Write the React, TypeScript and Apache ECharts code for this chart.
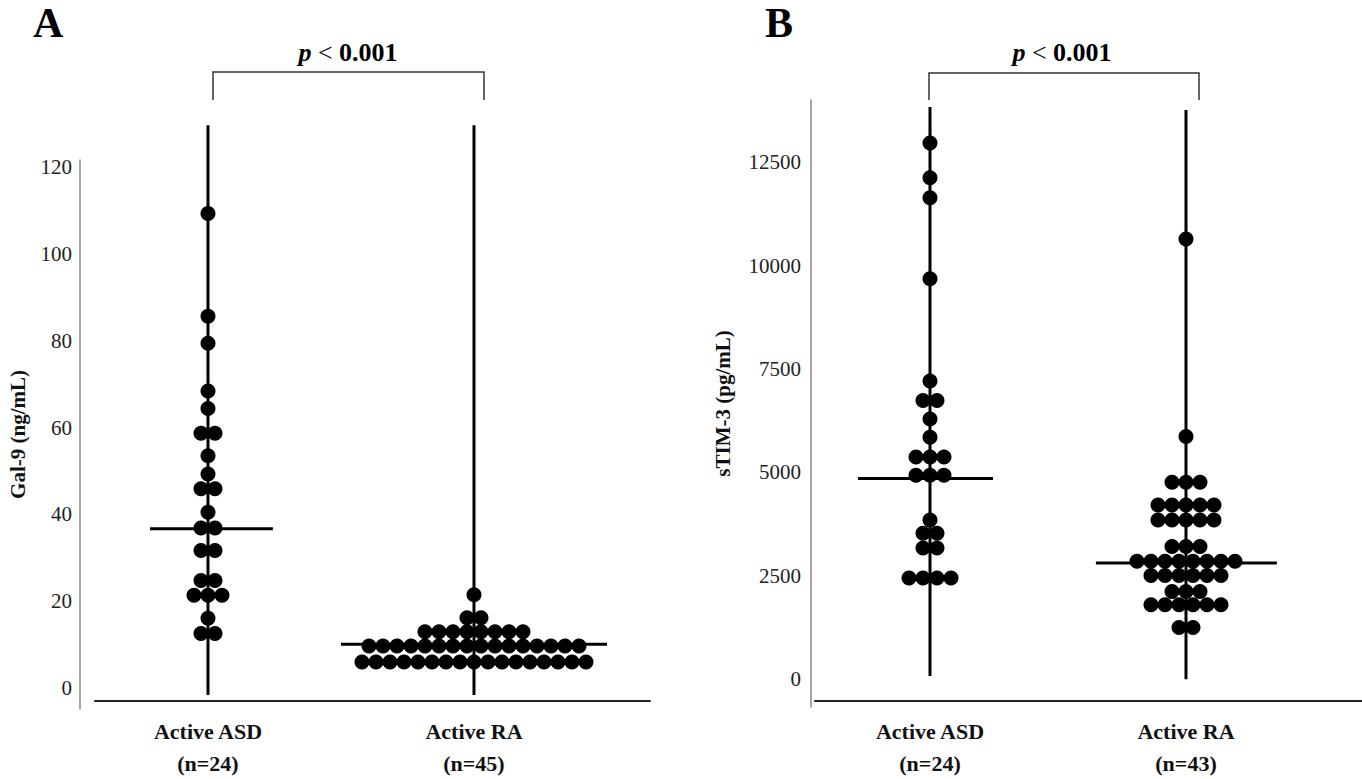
import React, { useEffect, useRef } from "react";
import * as echarts from "echarts";

const groups = ["Active ASD", "Active RA"];
const nLabelsA = ["(n=24)", "(n=45)"];
const nLabelsB = ["(n=24)", "(n=43)"];

const gal9Ticks = [0, 20, 40, 60, 80, 100, 120];
const stimTicks = [0, 2500, 5000, 7500, 10000, 12500];

const gal9ASD = [109.3, 85.6, 79.4, 68.4, 64.4, 58.7, 58.7, 53.5, 49.3, 45.9, 45.9, 40.5, 36.9, 36.9, 31.7, 31.7, 24.8, 24.8, 21.4, 21.4, 21.4, 16.1, 12.6, 12.6];
const gal9RA = [
  21.5,
  16.2, 16.2,
  13, 13, 13, 13, 13, 13, 13, 13,
  9.7, 9.7, 9.7, 9.7, 9.7, 9.7, 9.7, 9.7, 9.7, 9.7, 9.7, 9.7, 9.7, 9.7, 9.7, 9.7,
  6, 6, 6, 6, 6, 6, 6, 6, 6, 6, 6, 6, 6, 6, 6, 6, 6,
];
const gal9Median = [36.7, 10.1];
const gal9Range = [[-1.6, 129.6], [-1.6, 129.6]];

const stimASD = [12960, 12120, 11640, 9680, 7210, 6740, 6740, 6290, 5850, 5370, 5370, 5370, 4930, 4930, 4930, 3850, 3530, 3530, 3170, 3170, 2450, 2450, 2450, 2450];
const stimRA = [
  10640,
  5870,
  4760, 4760, 4760,
  4210, 4210, 4210, 4210, 4210,
  3850, 3850, 3850, 3850, 3850,
  3210, 3210, 3210,
  2850, 2850, 2850, 2850, 2850, 2850, 2850, 2850,
  2510, 2510, 2510, 2510, 2510, 2510,
  2120, 2120, 2120,
  1800, 1800, 1800, 1800, 1800, 1800,
  1250, 1250,
];
const stimMedian = [4850, 2812];
const stimRange = [[80, 13830], [0, 13760]];

// median bar half-widths (in category units: left, right)
const medianHalfA = [[0.218, 0.244], [0.5, 0.5]];
const medianHalfB = [[0.281, 0.246], [0.352, 0.355]];

const FONT = "'Liberation Serif', 'Times New Roman', serif";
const SPACING = 14;

function swarm(values: number[], cat: number) {
  const counts = new Map<number, number>();
  values.forEach((v) => counts.set(v, (counts.get(v) || 0) + 1));
  const out: any[] = [];
  counts.forEach((n, v) => {
    for (let i = 0; i < n; i++) {
      out.push({ value: [cat, v], symbolOffset: [(i - (n - 1) / 2) * SPACING, 0] });
    }
  });
  return out;
}

function panelSeries(gridIndex: number, asd: number[], ra: number[], medians: number[], ranges: number[][], halves: number[][]) {
  const s: any[] = [];
  const lineStyle = { color: "#000", width: 3 };
  [0, 1].forEach((i) => {
    s.push({
      type: "line",
      xAxisIndex: gridIndex,
      yAxisIndex: gridIndex,
      data: [[i + 1, ranges[i][0]], [i + 1, ranges[i][1]]],
      symbol: "none",
      lineStyle,
      silent: true,
      clip: false,
      z: 2,
    });
    s.push({
      type: "line",
      xAxisIndex: gridIndex,
      yAxisIndex: gridIndex,
      data: [[i + 1 - halves[i][0], medians[i]], [i + 1 + halves[i][1], medians[i]]],
      symbol: "none",
      lineStyle,
      silent: true,
      clip: false,
      z: 2,
    });
  });
  s.push({
    type: "scatter",
    xAxisIndex: gridIndex,
    yAxisIndex: gridIndex,
    data: [...swarm(asd, 1), ...swarm(ra, 2)],
    symbolSize: 15,
    itemStyle: { color: "#000", opacity: 1 },
    clip: false,
    z: 3,
  });
  return s;
}

export default function App() {
  const ref = useRef<HTMLDivElement>(null);
  useEffect(() => {
    if (!ref.current) return;
    const chart = echarts.init(ref.current, null, { renderer: "svg" });
    const tickLabel = { fontFamily: FONT, fontSize: 21, color: "#222", formatter: (v: number) => String(v) };
    const xLabel = (ns: string[]) => ({
      customValues: [1, 2],
      formatter: (v: number) => `${groups[v - 1]}\n${ns[v - 1]}`,
      fontFamily: FONT,
      fontSize: 22,
      fontWeight: "bold",
      color: "#111",
      lineHeight: 32,
      margin: 14,
    });
    const nameStyle = { fontFamily: FONT, fontSize: 21, fontWeight: "bold", color: "#111" };
    const pText = (x: number) => ({
      type: "text",
      x,
      y: 52,
      style: {
        text: "{p|p} < {b|0.001}",
        align: "center",
        verticalAlign: "middle",
        fontFamily: FONT,
        fontSize: 26,
        fill: "#000",
        rich: {
          p: { fontFamily: FONT, fontSize: 26, fontStyle: "italic", fontWeight: "bold" },
          b: { fontFamily: FONT, fontSize: 26, fontWeight: "bold" },
        },
      },
    });
    const axisLineStyle = { show: true, onZero: false, lineStyle: { color: "#222", width: 2 } };
    const option: any = {
      animation: false,
      backgroundColor: "#fff",
      grid: [
        { left: 95, top: 160, width: 555, height: 551 },
        { left: 815, top: 100, width: 547, height: 612 },
      ],
      xAxis: [
        {
          type: "value",
          gridIndex: 0,
          min: 0.5752,
          max: 2.6617,
          offset: -8,
          axisLine: axisLineStyle,
          axisTick: { show: false },
          splitLine: { show: false },
          axisLabel: xLabel(nLabelsA),
        },
        {
          type: "value",
          gridIndex: 1,
          min: 0.5508,
          max: 2.6875,
          offset: -6,
          axisLine: axisLineStyle,
          axisTick: { show: false },
          splitLine: { show: false },
          axisLabel: xLabel(nLabelsB),
        },
      ],
      yAxis: [
        {
          type: "value",
          gridIndex: 0,
          min: -4.8,
          max: 121.6,
          offset: 15,
          axisLine: { show: true, onZero: false, lineStyle: { color: "#888", width: 1.5 } },
          axisTick: { show: false },
          splitLine: { show: false },
          axisLabel: { ...tickLabel, customValues: gal9Ticks, margin: 8 },
          name: "Gal-9 (ng/mL)",
          nameLocation: "middle",
          nameGap: 52,
          nameTextStyle: nameStyle,
        },
        {
          type: "value",
          gridIndex: 1,
          min: -670,
          max: 14000,
          offset: 4,
          axisLine: { show: true, onZero: false, lineStyle: { color: "#888", width: 1.5 } },
          axisTick: { show: false },
          splitLine: { show: false },
          axisLabel: { ...tickLabel, customValues: stimTicks, margin: 10 },
          name: "sTIM-3 (pg/mL)",
          nameLocation: "middle",
          nameGap: 78,
          nameTextStyle: nameStyle,
        },
      ],
      series: [
        ...panelSeries(0, gal9ASD, gal9RA, gal9Median, gal9Range, medianHalfA),
        ...panelSeries(1, stimASD, stimRA, stimMedian, stimRange, medianHalfB),
      ],
      graphic: [
        { type: "text", left: 33, top: 2, style: { text: "A", fontFamily: FONT, fontSize: 42, fontWeight: "bold", fill: "#000" } },
        { type: "text", left: 765, top: 2, style: { text: "B", fontFamily: FONT, fontSize: 42, fontWeight: "bold", fill: "#000" } },
        pText(348),
        pText(1062),
        {
          type: "polyline",
          shape: { points: [[213, 100], [213, 72], [484, 72], [484, 100]] },
          style: { stroke: "#333", lineWidth: 1.5, fill: null },
        },
        {
          type: "polyline",
          shape: { points: [[929, 100], [929, 73], [1199, 73], [1199, 100]] },
          style: { stroke: "#333", lineWidth: 1.5, fill: null },
        },
      ],
    };
    chart.setOption(option);
    return () => chart.dispose();
  }, []);
  return (
    <div
      ref={ref}
      style={{ position: "fixed", left: 0, top: 0, width: 1362, height: 779, background: "#fff" }}
    />
  );
}
